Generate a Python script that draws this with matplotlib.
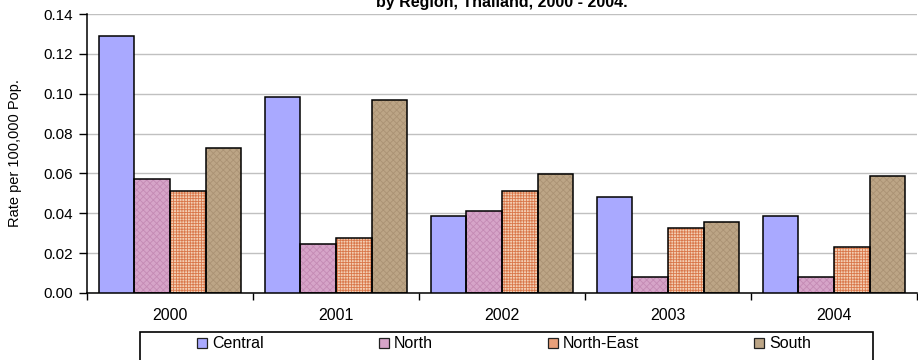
import numpy as np
import matplotlib
matplotlib.use("Agg")
import matplotlib.pyplot as plt
from matplotlib.patches import Rectangle

# data
years = ["2000", "2001", "2002", "2003", "2004"]
regions = ["Central", "North", "North-East", "South"]
central = [0.129, 0.0986, 0.0388, 0.0480, 0.0388]
north = [0.0573, 0.0246, 0.0409, 0.0082, 0.0082]
north_east = [0.0510, 0.0274, 0.0510, 0.0324, 0.0232]
south = [0.0730, 0.0966, 0.0597, 0.0354, 0.0588]
yticks = [0.00, 0.02, 0.04, 0.06, 0.08, 0.10, 0.12, 0.14]

plt.rcParams['font.family'] = ['Liberation Sans', 'DejaVu Sans']
plt.rcParams['hatch.linewidth'] = 0.6

W, H = 918, 360
fig = plt.figure(figsize=(W / 100, H / 100), dpi=100)
ax = fig.add_axes([87 / W, 1 - 293 / H, (917 - 87) / W, (293 - 14) / H])

# face colour, hatch, hatch colour
styles = [("#A9A9FF", "", None),
          ("#D6A4C8", "xxxxx", "#C48AB4"),
          ("#F3CFB4", "++++++", "#D9774A"),
          ("#BCA586", "xxxxx", "#AA9274")]
series = [central, north, north_east, south]

x = np.arange(len(years))
w = 0.215
for i, (vals, (fc, hatch, hc)) in enumerate(zip(series, styles)):
    pos = x + (i - 1.5) * w
    if hatch:
        ax.bar(pos, vals, w, color=fc, hatch=hatch, edgecolor=hc, linewidth=0, zorder=2)
    ax.bar(pos, vals, w, facecolor=fc if not hatch else "none", edgecolor="black",
           linewidth=1.1, zorder=3)

handles = [Rectangle((0, 0), 1, 1, facecolor=fc, edgecolor="#222222", linewidth=0.9)
           for fc, hatch, hc in styles]
handles[2] = Rectangle((0, 0), 1, 1, facecolor="#E9A07A", edgecolor="#222222", linewidth=0.9)

ax.set_ylim(0, 0.14)
ax.set_xlim(-0.5, len(years) - 0.5)
ax.set_yticks(yticks)
ax.set_yticklabels([f"{v:.2f}" for v in yticks], fontsize=11)
ax.yaxis.grid(True, color="#C0C0C0", linewidth=1.0, zorder=0)
ax.set_axisbelow(True)

ax.set_xticks(x)
ax.set_xticklabels(years, fontsize=11.5)
ax.set_xticks(np.arange(len(years) + 1) - 0.5, minor=True)
ax.tick_params(axis="x", which="major", length=0, pad=11)
ax.tick_params(axis="x", which="minor", length=5, width=1, direction="out")
ax.tick_params(axis="y", length=6, width=1, direction="out", pad=4)

for s in ["top", "right"]:
    ax.spines[s].set_visible(False)
for s in ["left", "bottom"]:
    ax.spines[s].set_linewidth(1.1)
    ax.spines[s].set_color("black")

ax.set_ylabel("Rate per 100,000 Pop.", fontsize=10.5)
ax.yaxis.set_label_coords(-(87 - 22) / (917 - 87), 0.5)

fig.text(502 / W, 1 - 7 / H, "by Region, Thailand, 2000 - 2004.", ha="center", va="baseline",
         fontsize=11.5, fontweight="bold")

# legend frame (runs past the bottom edge like the reference)
fig.patches.append(Rectangle((140 / W, -0.05), (873 - 140) / W, (1 - 332 / H) + 0.05,
                             transform=fig.transFigure, facecolor="white", edgecolor="black",
                             linewidth=1.2))
fig.legend(handles, regions, loc="center left", bbox_to_anchor=(197 / W, 1 - 344 / H),
           ncol=4, frameon=False, fontsize=11.5, handlelength=0.62, handleheight=0.62,
           handletextpad=0.32, columnspacing=7.2, borderpad=0, borderaxespad=0)

fig.savefig("out.png", dpi=100)
